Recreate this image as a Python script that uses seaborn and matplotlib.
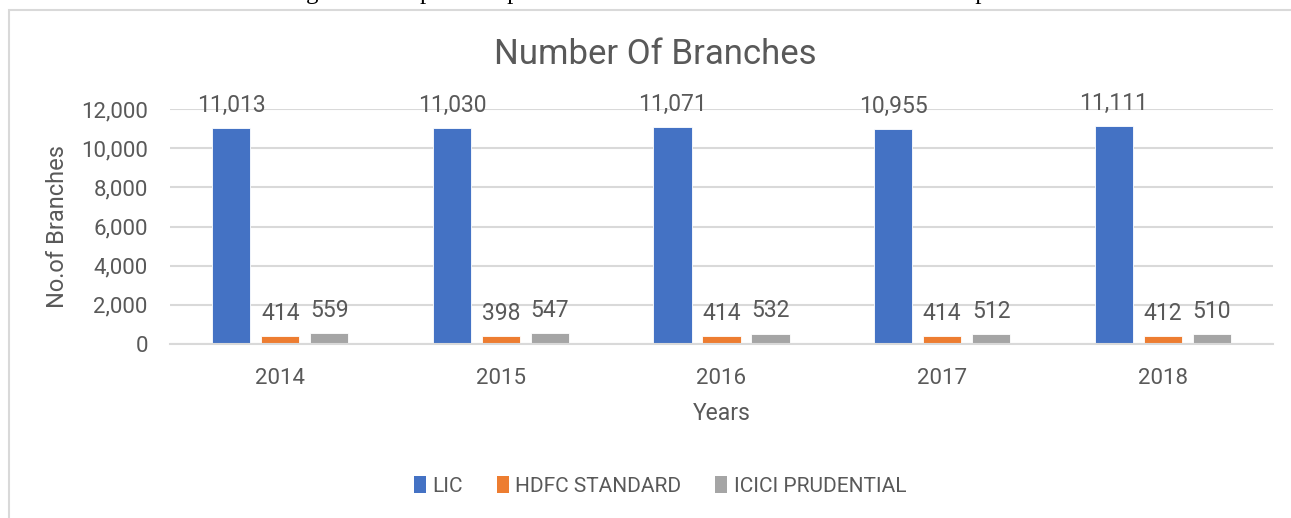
import matplotlib
matplotlib.use("Agg")
import matplotlib.pyplot as plt
import seaborn as sns
import pandas as pd
from matplotlib.patches import Rectangle, Patch

years = ["2014", "2015", "2016", "2017", "2018"]
companies = ["LIC", "HDFC STANDARD", "ICICI PRUDENTIAL"]
lic = [11013, 11030, 11071, 10955, 11111]
hdfc = [414, 398, 414, 414, 412]
icici = [559, 547, 532, 512, 510]
colors = ["#4472C4", "#ED7D31", "#A5A5A5"]
yticks = [0, 2000, 4000, 6000, 8000, 10000, 12000]

rows = []
for comp, vals in zip(companies, [lic, hdfc, icici]):
    for y, v in zip(years, vals):
        rows.append({"Year": y, "Company": comp, "Branches": v})
df = pd.DataFrame(rows)

sns.set_theme(style="white")
plt.rcParams["font.family"] = ["Roboto", "DejaVu Sans"]
TXT = "#595959"
GRID = "#D9D9D9"

W, H = 1291, 518
fig = plt.figure(figsize=(W / 100, H / 100), dpi=100)
fig.patch.set_facecolor("white")

# outer chart frame
fig.add_artist(Rectangle((9 / W, -0.05), 1.2, 1.05 - 10.5 / H, transform=fig.transFigure,
                         fill=False, edgecolor=GRID, linewidth=1.5))

# caption above the chart, cut off at the top edge as in the source
fig.text(662 / W, 1 + 0.5 / H, "Figure 4: Graphical representation of number of branches of the companies",
         ha="center", va="baseline", fontsize=18, family=["Liberation Serif", "DejaVu Serif"], color="black")

ax = fig.add_axes([170 / W, 1 - 344 / H, (1273 - 170) / W, (344 - 109) / H])
sns.barplot(data=df, x="Year", y="Branches", hue="Company", hue_order=companies,
            palette=colors, width=0.667, gap=0.22, saturation=1, ax=ax, legend=False,
            edgecolor="white", linewidth=0.6)

ax.set_ylim(0, 12000)
ax.set_yticks(yticks)
ax.set_yticklabels([f"{t:,}" for t in yticks])
ax.yaxis.grid(True, color=GRID, linewidth=1.5)
ax.set_axisbelow(True)
for s in ["top", "right", "left"]:
    ax.spines[s].set_visible(False)
ax.spines["bottom"].set_color(GRID)
ax.spines["bottom"].set_linewidth(1.5)
ax.tick_params(axis="both", length=0, labelsize=16, labelcolor=TXT)
ax.tick_params(axis="x", pad=17)
ax.tick_params(axis="y", pad=16)

for cont in ax.containers:
    ax.bar_label(cont, labels=[f"{v:,.0f}" for v in cont.datavalues], padding=8,
                 fontsize=16.5, color=TXT)

ax.set_xlabel("Years", fontsize=16.5, color=TXT)
ax.set_ylabel("No.of Branches", fontsize=17, color=TXT)
ax.xaxis.set_label_coords(0.5, (344 - 413) / 235)
ax.xaxis.label.set_va("center")
ax.yaxis.set_label_coords((58 - 170) / 1103, 0.5)
ax.yaxis.label.set_va("center")

fig.text(655 / W, 1 - 55 / H, "Number Of Branches", ha="center", va="center", fontsize=25, color=TXT)

handles = [Patch(facecolor=c, edgecolor="none") for c in colors]
fig.legend(handles, companies, loc="center", bbox_to_anchor=(660 / W, 1 - 486 / H), ncol=3,
           frameon=False, fontsize=15, labelcolor=TXT, handlelength=0.6, handleheight=0.9,
           handletextpad=0.3, columnspacing=1.6)

fig.savefig("out.png", dpi=100, facecolor="white")
